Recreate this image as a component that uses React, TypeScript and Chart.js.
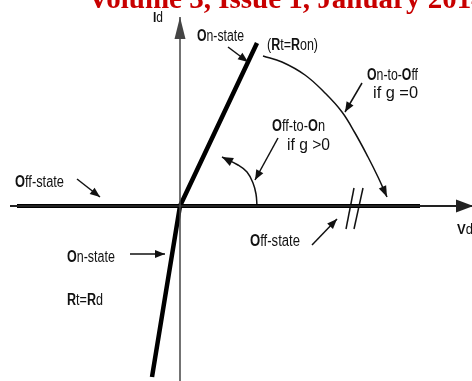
import React, { useEffect, useRef } from "react";
import { Chart, registerables } from "chart.js";

Chart.register(...registerables);

type P = { x: number; y: number };

// Diagram data, in units relative to the axes origin (x = voltage, y = current)
const currentAxis: P[] = [{ x: 0, y: -176 }, { x: 0, y: 189 }];
const voltageAxis: P[] = [{ x: -170, y: 0 }, { x: 293, y: 0 }];
const offStateBranch: P[] = [{ x: -163, y: 0 }, { x: 240, y: 0 }];
const onStateBranch: P[] = [{ x: -28, y: -171 }, { x: 0, y: 0 }, { x: 77, y: 163 }];
const breakMarkA: P[] = [{ x: 166, y: -23 }, { x: 174, y: 18 }];
const breakMarkB: P[] = [{ x: 174, y: -23 }, { x: 183, y: 18 }];
const onToOffPath: P[] = [
  { x: 83, y: 150 }, { x: 102, y: 144 }, { x: 125, y: 131 }, { x: 145, y: 113 },
  { x: 162, y: 94 }, { x: 175, y: 73 }, { x: 188, y: 49 }, { x: 198, y: 29 }, { x: 207, y: 9 },
];
const offToOnPath: P[] = [
  { x: 77, y: 0 }, { x: 76, y: 12 }, { x: 73, y: 23 }, { x: 67, y: 34 }, { x: 58, y: 41 }, { x: 42, y: 49 },
];
const pointerArrows: P[][] = [
  [{ x: 48, y: 159 }, { x: 68, y: 144 }],
  [{ x: 182, y: 123 }, { x: 165, y: 94 }],
  [{ x: 98, y: 68 }, { x: 75, y: 26 }],
  [{ x: -103, y: 27 }, { x: -80, y: 9 }],
  [{ x: 132, y: -39 }, { x: 157, y: -13 }],
  [{ x: -50, y: -48 }, { x: -15, y: -48 }],
];

const labelTexts: string[] = [
  "Id", "On-state", "(Rt=Ron)", "On-to-Off", "if g =0", "Off-to-On", "if g >0",
  "Off-state", "Off-state", "On-state", "Rt=Rd", "Vd",
];
const labelAnchors: P[] = [
  { x: -27, y: 184 }, { x: 17, y: 165 }, { x: 87, y: 156 }, { x: 187, y: 126 }, { x: 193, y: 108 },
  { x: 92, y: 75 }, { x: 107, y: 56 }, { x: -165, y: 19 }, { x: 70, y: -40 }, { x: -113, y: -56 },
  { x: -113, y: -99 }, { x: 277, y: -28 },
];
const labelWidths: number[] = [10, 47, 51, 51, 45, 53, 43, 49, 50, 48, 36, 16];
const labelSizes: number[] = [14, 16, 16, 16, 16, 16, 16, 16, 16, 16, 16, 15];

const titleText = "Volume 3, Issue 1, January 2014";

const arrowHeads = {
  id: "arrowHeads",
  afterDatasetsDraw(chart: any) {
    const ctx = chart.ctx;
    const xs = chart.scales.x;
    const ys = chart.scales.y;
    chart.data.datasets.forEach((ds: any) => {
      if (!ds.arrow) return;
      const d = ds.data;
      const a = d[d.length - 2];
      const b = d[d.length - 1];
      const ax = xs.getPixelForValue(a.x), ay = ys.getPixelForValue(a.y);
      const bx = xs.getPixelForValue(b.x), by = ys.getPixelForValue(b.y);
      const ang = Math.atan2(by - ay, bx - ax);
      const [len, w] = ds.arrow;
      const c = Math.cos(ang), s = Math.sin(ang);
      ctx.save();
      ctx.fillStyle = ds.borderColor;
      ctx.beginPath();
      ctx.moveTo(bx, by);
      ctx.lineTo(bx - len * c + (w / 2) * s, by - len * s - (w / 2) * c);
      ctx.lineTo(bx - len * c - (w / 2) * s, by - len * s + (w / 2) * c);
      ctx.closePath();
      ctx.fill();
      ctx.restore();
    });
  },
};

function splitRuns(text: string): { t: string; bold: boolean }[] {
  const runs: { t: string; bold: boolean }[] = [];
  for (const ch of text) {
    const bold = ch >= "A" && ch <= "Z";
    const last = runs[runs.length - 1];
    if (last && last.bold === bold) last.t += ch;
    else runs.push({ t: ch, bold });
  }
  return runs;
}

const diagramLabels = {
  id: "diagramLabels",
  afterDraw(chart: any) {
    const ctx = chart.ctx;
    const xs = chart.scales.x;
    const ys = chart.scales.y;
    labelTexts.forEach((text, i) => {
      const px = xs.getPixelForValue(labelAnchors[i].x);
      const py = ys.getPixelForValue(labelAnchors[i].y);
      const size = labelSizes[i];
      const runs = splitRuns(text);
      const fontOf = (bold: boolean) =>
        `${bold ? "bold " : ""}${size}px "Liberation Sans", Arial, sans-serif`;
      let total = 0;
      runs.forEach((r) => {
        ctx.font = fontOf(r.bold);
        total += ctx.measureText(r.t).width;
      });
      const sc = labelWidths[i] / total;
      ctx.save();
      ctx.translate(px, py);
      ctx.scale(sc, 1);
      ctx.fillStyle = "#111";
      ctx.textBaseline = "alphabetic";
      ctx.textAlign = "left";
      let cx = 0;
      runs.forEach((r) => {
        ctx.font = fontOf(r.bold);
        ctx.fillText(r.t, cx, 0);
        cx += ctx.measureText(r.t).width;
      });
      ctx.restore();
    });
    ctx.save();
    ctx.font = 'bold 29px "Liberation Serif", "Times New Roman", serif';
    ctx.fillStyle = "#c80000";
    ctx.textBaseline = "alphabetic";
    ctx.textAlign = "left";
    ctx.fillText(titleText, 88, 7.5);
    ctx.restore();
  },
};

function line(data: P[], color: string, width: number, extra: any = {}) {
  return {
    data,
    showLine: true,
    borderColor: color,
    backgroundColor: color,
    borderWidth: width,
    pointRadius: 0,
    fill: false,
    tension: 0,
    borderCapStyle: "butt",
    ...extra,
  };
}

export default function App() {
  const ref = useRef<HTMLCanvasElement | null>(null);
  useEffect(() => {
    if (!ref.current) return;
    const datasets: any[] = [
      line(currentAxis, "#444", 1.5, { arrow: [22, 11] }),
      line(voltageAxis, "#222", 2, { arrow: [17, 13] }),
      line(offStateBranch, "#000", 4),
      line(onStateBranch, "#000", 4.5, { borderJoinStyle: "miter" }),
      line(breakMarkA, "#111", 1.5),
      line(breakMarkB, "#111", 1.5),
      line(onToOffPath, "#111", 1.5, { tension: 0.4, arrow: [11, 8] }),
      line(offToOnPath, "#111", 1.5, { tension: 0.4, arrow: [11, 9] }),
      ...pointerArrows.map((p) => line(p, "#111", 1.5, { arrow: [10, 8] })),
    ];
    const chart = new Chart(ref.current, {
      type: "scatter",
      data: { datasets },
      options: {
        animation: false,
        responsive: false,
        devicePixelRatio: 1,
        layout: { padding: 0 },
        scales: {
          x: { type: "linear", min: -180, max: 292, display: false },
          y: { type: "linear", min: -175, max: 206, display: false },
        },
        plugins: { legend: { display: false }, tooltip: { enabled: false }, title: { display: false } },
      } as any,
      plugins: [arrowHeads, diagramLabels],
    });
    return () => chart.destroy();
  }, []);
  return (
    <div style={{ position: "fixed", left: 0, top: 0, width: 472, height: 381, background: "#fff" }}>
      <canvas ref={ref} width={472} height={381} style={{ display: "block" }} />
    </div>
  );
}
